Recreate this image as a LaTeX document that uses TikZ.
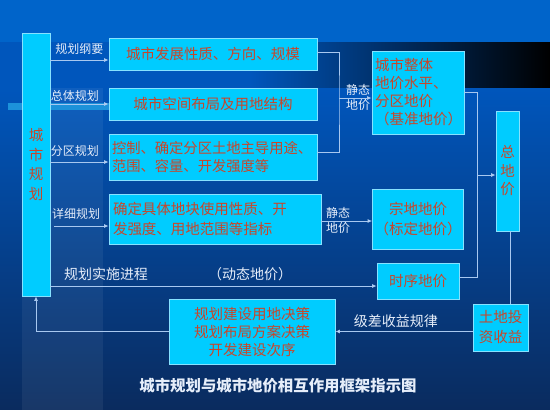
\documentclass[tikz,border=0pt]{standalone}
\usepackage{fontspec}
\setmainfont{Noto Sans CJK SC}
\usepackage{xcolor}
\usepackage{tikz}
\usetikzlibrary{arrows.meta,positioning,calc}
\definecolor{upBgTop}{HTML}{0064CA}
\definecolor{upBgMid}{HTML}{0056BC}
\definecolor{upBgLow}{HTML}{0A2B5E}
\definecolor{upBar}{HTML}{1C92DA}
\definecolor{upCyan}{HTML}{00CCFF}
\definecolor{upEdge}{HTML}{86E2FF}
\definecolor{upRed}{HTML}{C8462A}
\definecolor{upLine}{HTML}{A8C8F0}
\definecolor{upLabel}{HTML}{E6EEFA}
\tikzset{
  cbox/.style={rectangle,draw=upEdge,line width=0.8pt,
    fill=upCyan,text=upRed,inner sep=2pt,
    font=\fontsize{14.5}{18}\selectfont},
  vbox/.style={cbox,align=center,
    font=\fontsize{14.5}{18.5}\selectfont},
  lbl/.style={text=upLabel,font=\fontsize{12}{15}\selectfont,
    align=center,inner sep=0pt},
  conn/.style={draw=upLine,line width=0.8pt},
  arr/.style={conn,-{Latex[length=4.5pt,width=4pt,fill=white]}},
}

\begin{document}
\begin{tikzpicture}[x=1pt,y=-1pt]
  \useasboundingbox (0,0) rectangle (550,410);

  % background of the slide
  \fill[upBgTop] (0,0) rectangle (550,42);
  \fill[upBgMid] (0,42) rectangle (250,88);
  \shade[left color=upBgMid,right color=black] (250,42) rectangle (550,88);
  \shade[top color=upBgMid,bottom color=upBgLow] (0,88) rectangle (550,410);
  \fill[white,opacity=0.06] (22,88) rectangle (103,410);
  \fill[upBar] (8,103) rectangle (110,110);

  % boxes
  \node[vbox,minimum width=28,minimum height=263] (plan) at (36,164.5)
    {城\\[1pt]市\\[1pt]规\\[1pt]划};
  \node[cbox,minimum width=208,minimum height=32] (goal) at (213,54)
    {城市发展性质、方向、规模};
  \node[cbox,minimum width=208,minimum height=32] (layout) at (213,104)
    {城市空间布局及用地结构};
  \node[cbox,minimum width=208,minimum height=46,text width=202,
    align=left,font=\fontsize{14.3}{18}\selectfont] (zone) at (213,157)
    {控制、确定分区土地主导用途、\\范围、容量、开发强度等};
  \node[cbox,minimum width=212,minimum height=50,text width=204,
    align=left,font=\fontsize{14.5}{20.5}\selectfont] (detail) at (215,219)
    {确定具体地块使用性质、开\\发强度、用地范围等指标};
  \node[cbox,minimum width=92,minimum height=83,text width=86,
    align=left] (whole) at (418,92.5)
    {城市整体\\地价水平、\\分区地价\\（基准地价）};
  \node[vbox,minimum width=23,minimum height=120] (total) at (507.5,171)
    {总\\地\\价};
  \node[cbox,minimum width=82,minimum height=60,align=center,
    font=\fontsize{14.5}{20}\selectfont] (parcel) at (418,219)
    {宗地地价\\（标定地价）};
  \node[cbox,minimum width=82,minimum height=36] (timing) at (418,281)
    {时序地价};
  \node[cbox,minimum width=55,minimum height=47,align=center,
    font=\fontsize{14.5}{20}\selectfont] (income) at (500.5,327.5)
    {土地投\\资收益};
  \node[cbox,minimum width=166,minimum height=65,align=center] (decision)
    at (252,331.5)
    {规划建设用地决策\\规划布局方案决策\\开发建设次序};

  % planning levels
  \coordinate (g1) at ($(goal.west)+(0,6)$);
  \coordinate (z1) at ($(zone.west)+(0,5)$);
  \coordinate (d1) at ($(detail.west)+(0,7)$);
  \draw[arr] (plan.east |- g1) -- (g1)
    node[lbl,pos=0.5,above=5pt] {规划纲要};
  \draw[arr] (plan.east |- layout.west) -- (layout.west)
    node[lbl,pos=0.42,above=2pt] {总体规划};
  \draw[arr] (plan.east |- z1) -- (z1)
    node[lbl,pos=0.42,above=5pt] {分区规划};
  \draw[arr] ($(plan.east |- d1)+(4,0)$) -- (d1)
    node[lbl,pos=0.4,above=6pt] {详细规划};

  % static land price
  \coordinate (jA) at (339,98);
  \draw[conn] ($(goal.east)+(0,-2)$) -| (jA) |- ($(zone.east)+(0,-5)$);
  \draw[arr] (jA) -- (whole.west |- jA);
  \node[lbl] (staticA) at (358,97) {静态\\地价};
  \draw[arr] ($(detail.east)+(0,2)$) -- ($(parcel.west)+(0,2)$);
  \node[lbl] (staticB) at (338,220) {静态\\地价};

  % total land price
  \coordinate (jB) at (477,175);
  \draw[conn] (whole.east) -| (jB);
  \draw[conn] ($(timing.east)+(0,-4)$) -| (jB);
  \draw[arr] (jB) -- (total.west |- jB);
  \draw[conn] ($(total.south)+(2.5,0)$) -- ($(total.south |- income.north)+(2.5,0)$);

  % dynamic land price
  \coordinate (t1) at ($(timing.west)+(0,5)$);
  \draw[arr] (plan.east |- t1) -- (t1);
  \node[lbl,font=\fontsize{14}{16}\selectfont] (progress) at (106,274)
    {规划实施进程};
  \node[lbl,font=\fontsize{14}{16}\selectfont] (dynamic) at (250,274)
    {（动态地价）};

  % feedback
  \coordinate (i1) at ($(income.west)+(0,4)$);
  \draw[arr] (i1) -- (decision.east |- i1)
    node[lbl,pos=0.56,above=3pt,font=\fontsize{14}{16}\selectfont] {级差收益规律};
  \draw[arr] (decision.west) -| (plan.south);

  \node[text=upLabel,font=\bfseries\fontsize{15.4}{18}\selectfont] (title)
    at (278,386) {城市规划与城市地价相互作用框架指示图};
\end{tikzpicture}
\end{document}
